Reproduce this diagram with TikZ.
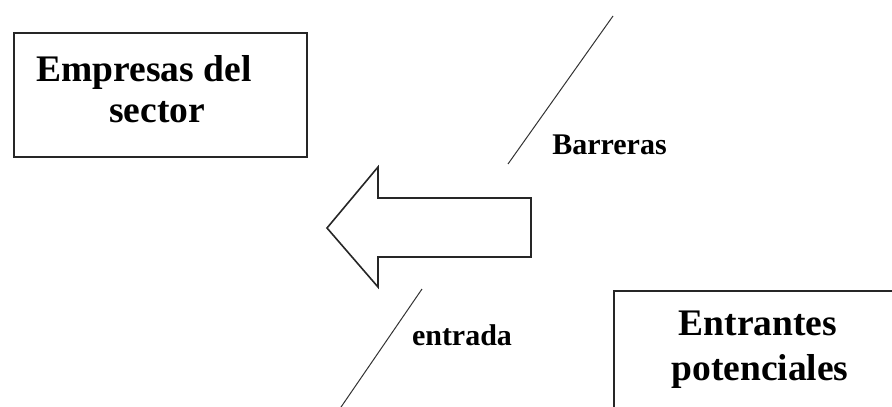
\documentclass[tikz,border=0pt]{standalone}
\usepackage{fontspec}
\setmainfont{Liberation Serif}
\begin{document}
\begin{tikzpicture}[x=1pt,y=-1pt,
  boxstyle/.style={draw=black!85,line width=2pt,inner sep=0pt,fill=white},
  bigtext/.style={font=\bfseries\fontsize{37.5}{44}\selectfont,inner sep=0pt,anchor=base},
  smalltext/.style={font=\bfseries\fontsize{30}{34}\selectfont,inner sep=0pt,anchor=base},
  barrier/.style={draw=black!80,line width=1pt},
  flow/.style={draw=black!85,line width=1.6pt,line join=miter}]
\useasboundingbox (0,0) rectangle (892,407);
\clip (0,0) rectangle (892,407);

% Boxes
\node[boxstyle,minimum width=293pt,minimum height=124pt] (emp) at (160.5,95) {};
\node[boxstyle,minimum width=300pt,minimum height=140pt,anchor=north west] (ent) at (613,290) {};

% Box texts
\node[bigtext] (empA) at (144,81) {Empresas del};
\node[bigtext] (empB) at (157,122) {sector};
\node[bigtext] (entA) at (758,335) {Entrantes};
\node[bigtext] (entB) at (760,380) {potenciales};

% Entry barrier, drawn as two slanted strokes
\coordinate (b1s) at (508,164);
\coordinate (b1e) at (613,16);
\coordinate (b2s) at (339,410);
\coordinate (b2e) at (422,289);
\draw[barrier] (b1s) -- (b1e);
\draw[barrier] (b2s) -- (b2e);
\node[smalltext] (barr) at (609.5,154) {Barreras};
\node[smalltext] (entr) at (462,345) {entrada};

% Block arrow pointing to the incumbents
\coordinate (tip) at (327,228);
\draw[flow] (tip) -- (378,167) -- (378,198) -- (531,198) -- (531,257)
  -- (378,257) -- (378,287) -- cycle;
\end{tikzpicture}
\end{document}
